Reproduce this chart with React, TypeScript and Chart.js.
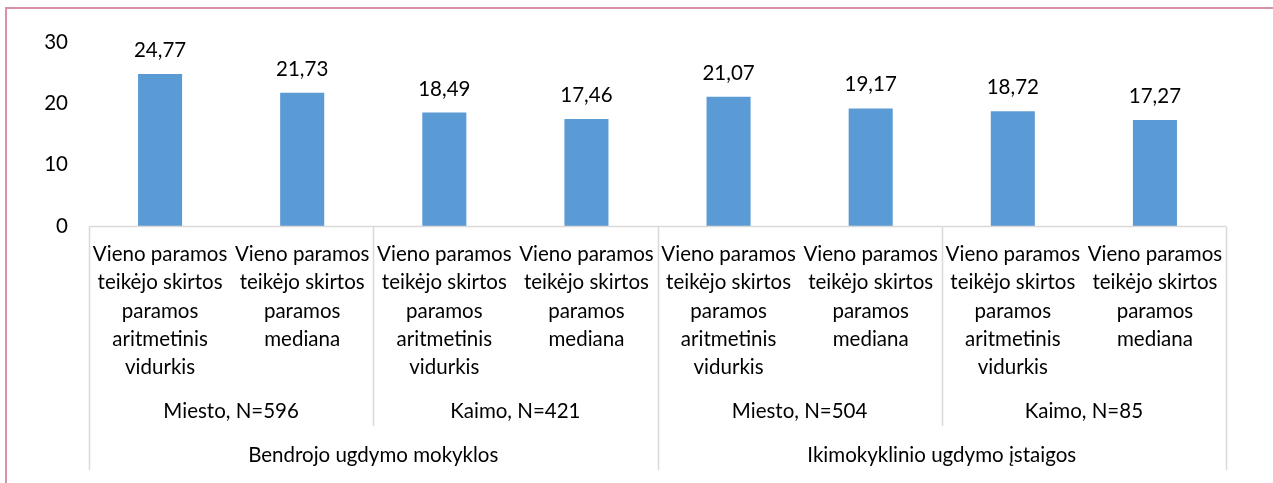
import React, { useEffect, useRef } from "react";
import { Chart, registerables } from "chart.js";

Chart.register(...registerables);

const topGroups = ["Bendrojo ugdymo mokyklos", "Ikimokyklinio ugdymo įstaigos"];
const subGroups = ["Miesto, N=596", "Kaimo, N=421", "Miesto, N=504", "Kaimo, N=85"];
const measureMean = ["Vieno paramos", "teikėjo skirtos", "paramos", "aritmetinis", "vidurkis"];
const measureMedian = ["Vieno paramos", "teikėjo skirtos", "paramos", "mediana"];
const values = [24.77, 21.73, 18.49, 17.46, 21.07, 19.17, 18.72, 17.27];
const yTicks = [0, 10, 20, 30];

const FONT = "Lato";
const FS = 20.5;
const fmt = (v: number) => v.toFixed(2).replace(".", ",");

export default function App() {
  const ref = useRef<HTMLCanvasElement | null>(null);

  useEffect(() => {
    if (!ref.current) return;
    const labels: string[][] = [];
    for (let i = 0; i < subGroups.length; i++) {
      labels.push(measureMean);
      labels.push(measureMedian);
    }

    const overlay = {
      id: "overlay",
      afterDraw(chart: any) {
        const ctx = chart.ctx as CanvasRenderingContext2D;
        const x = chart.scales.x;
        const area = chart.chartArea;
        const axisY = area.bottom + 0.5;
        ctx.save();
        // outer frame (top + left)
        ctx.strokeStyle = "rgb(216,146,166)";
        ctx.lineWidth = 2;
        ctx.beginPath();
        ctx.moveTo(6, 483);
        ctx.lineTo(6, 8);
        ctx.lineTo(1273, 8);
        ctx.stroke();

        // data labels
        ctx.fillStyle = "#000";
        ctx.font = `${FS}px ${FONT}`;
        ctx.textAlign = "center";
        ctx.textBaseline = "alphabetic";
        const meta = chart.getDatasetMeta(0);
        meta.data.forEach((bar: any, i: number) => {
          ctx.fillText(fmt(values[i]), bar.x, bar.y - 17);
        });

        // category axis
        ctx.strokeStyle = "#D9D9D9";
        ctx.lineWidth = 1.5;
        ctx.beginPath();
        ctx.moveTo(area.left, axisY);
        ctx.lineTo(area.right, axisY);
        const n = values.length;
        for (let b = 0; b <= n; b += 2) {
          const px = Math.round(x.getPixelForValue(b - 0.5)) + 0.5;
          const outer = b % 4 === 0;
          ctx.moveTo(px, axisY);
          ctx.lineTo(px, outer ? 470 : 426);
        }
        ctx.stroke();

        ctx.fillStyle = "#000";
        ctx.font = `${FS}px ${FONT}`;
        labels.forEach((lines, i) => {
          const cx = x.getPixelForValue(i);
          lines.forEach((t, k) => {
            ctx.fillText(t, cx, 261 + k * 28.3);
          });
        });
        subGroups.forEach((t, g) => {
          const cx = (x.getPixelForValue(g * 2 - 0.5) + x.getPixelForValue(g * 2 + 1.5)) / 2;
          ctx.fillText(t, cx, 418);
        });
        topGroups.forEach((t, g) => {
          const cx = (x.getPixelForValue(g * 4 - 0.5) + x.getPixelForValue(g * 4 + 3.5)) / 2;
          ctx.fillText(t, cx, 462);
        });
        ctx.restore();
      },
    };

    const chart = new Chart(ref.current, {
      type: "bar",
      data: {
        labels: labels.map((l) => l.join(" ")),
        datasets: [
          {
            data: values,
            backgroundColor: "#5B9BD5",
            borderWidth: 0,
            barPercentage: 0.31,
            categoryPercentage: 1,
          },
        ],
      },
      options: {
        responsive: false,
        animation: false,
        layout: { padding: { top: 42, bottom: 257, left: 0, right: 47 } },
        plugins: { legend: { display: false }, tooltip: { enabled: false } },
        scales: {
          x: { display: false },
          y: {
            min: 0,
            max: 30,
            afterBuildTicks: (s: any) => {
              s.ticks = yTicks.map((v) => ({ value: v }));
            },
            afterFit: (s: any) => {
              s.width = 89;
            },
            grid: { display: false },
            border: { display: false },
            ticks: { color: "#000", font: { family: FONT, size: FS }, padding: 13 },
          },
        },
      },
      plugins: [overlay],
    });
    return () => chart.destroy();
  }, []);

  return (
    <div style={{ position: "absolute", left: 0, top: 0, width: 1273, height: 483, background: "#fff" }}>
      <canvas ref={ref} width={1273} height={483} />
    </div>
  );
}
